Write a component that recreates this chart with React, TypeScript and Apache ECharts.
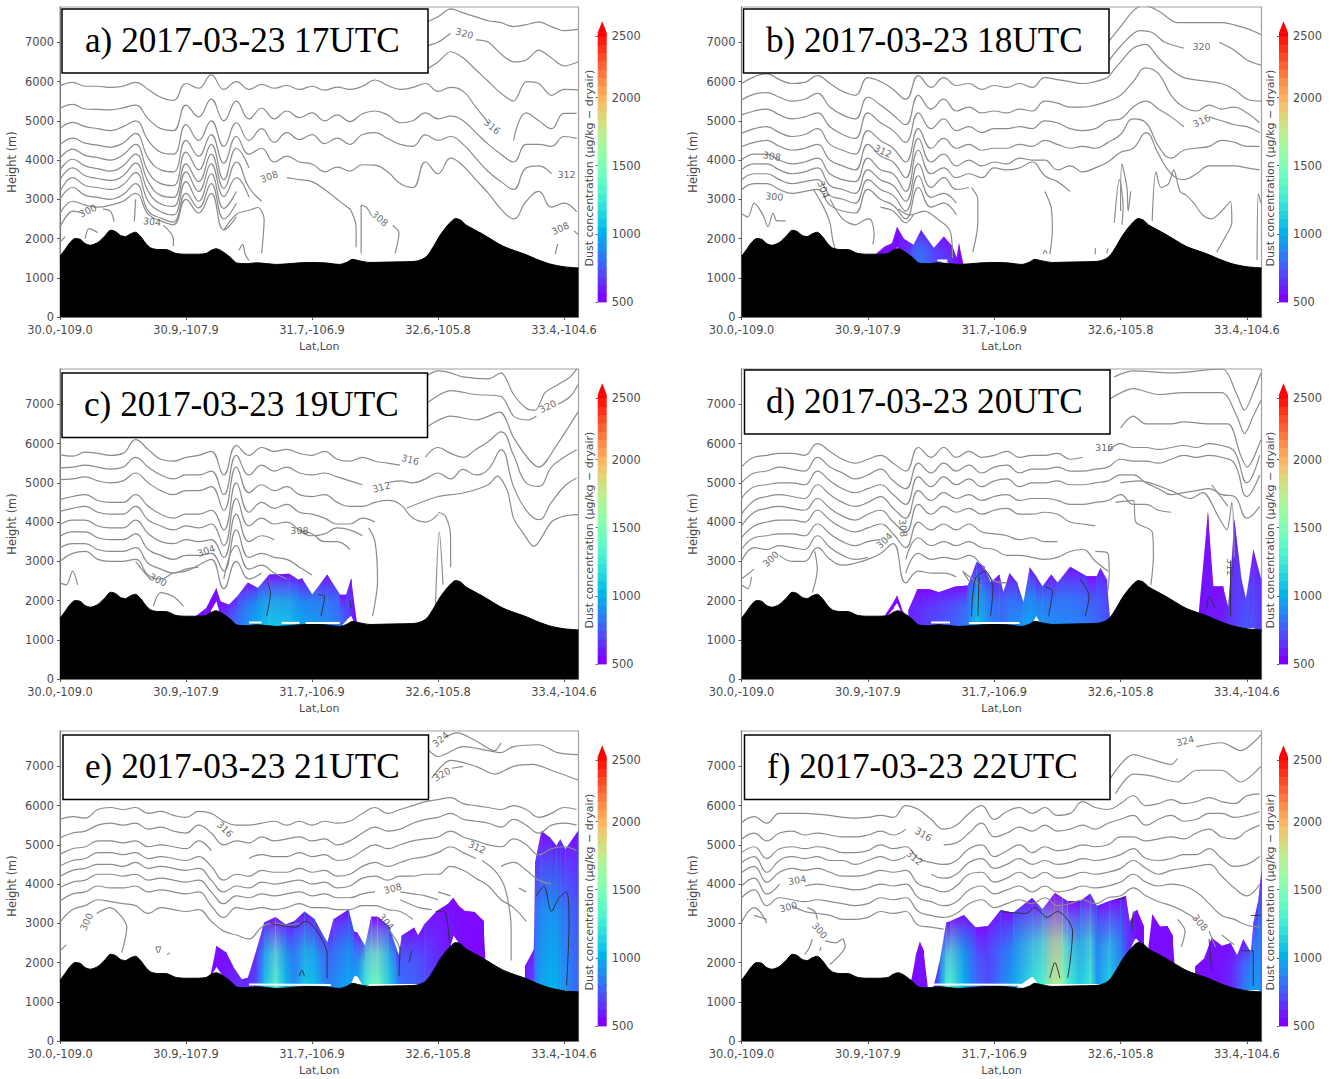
import React, { useEffect, useRef } from "react";
import * as echarts from "echarts";

const n = null;
const xTickValues = [0, 100, 200, 300, 400];
const xTickLabels = ["30.0,-109.0", "30.9,-107.9", "31.7,-106.9", "32.6,-105.8", "33.4,-104.6"];
const yTickValues = [0, 1000, 2000, 3000, 4000, 5000, 6000, 7000];
const cbTickValues = [500, 1013, 1525, 2036, 2500];
const cbLevels = [500,562,625,687,750,812,875,937,1000,1062,1125,1187,1250,1312,1375,1437,1500,1562,1625,1687,1750,1812,1875,1937,2000,2062,2125,2187,2250,2312,2375,2437,2500,2525];
const titles = ["a) 2017-03-23 17UTC","b) 2017-03-23 18UTC","c) 2017-03-23 19UTC","d) 2017-03-23 20UTC","e) 2017-03-23 21UTC","f) 2017-03-23 22UTC"];

const terrainX = [0,4,8,12,16,20,24,30,36,40,44,48,52,56,60,64,68,72,78,84,92,100,108,116,120,124,128,132,136,140,148,156,172,190,199,210,222,228,232,238,246,260,282,288,292,297,302,308,314,318,322,335,352,369,380,389,400,411.5];
const terrainH = [1550,1720,1900,2000,1980,1870,1830,1900,2080,2210,2180,2080,2050,2120,2160,2050,1880,1760,1720,1720,1620,1600,1600,1620,1700,1740,1690,1600,1500,1380,1360,1380,1340,1380,1390,1380,1340,1400,1470,1430,1390,1400,1420,1480,1580,1830,2100,2350,2510,2470,2350,2120,1800,1600,1450,1350,1280,1250];

// contour lines sampled every 10 index units along the section
const gridX = [0,10,20,30,40,50,60,70,80,90,100,110,120,130,140,150,160,170,180,190,200,210,220,230,240,250,260,270,280,290,300,310,320,330,340,350,360,370,380,390,400,410];

const linesA = [
  [5890,5980,5880,5880,5850,5880,5980,5800,5600,5520,5950,5830,6170,5800,6000,5800,5930,5830,5900,5800,5880,5780,5860,5800,5880,6040,5900,5800,5850,5950,5750,5850,5750,5350,4950,n,4500,5200,5000,4800,5190,5190],
  [5320,5420,5300,5290,5280,5330,5400,5050,4800,4750,5400,5100,5550,5000,5500,5050,5320,5050,5250,5080,5200,5000,5150,4980,5180,5250,5150,4950,5000,5200,5050,5120,5000,4700,4400,4150,3950,4400,4400,4350,4600,4550],
  [4800,4960,4850,4800,4750,4850,5000,4500,4200,4150,4900,4500,5000,4350,4950,4500,4800,4450,4700,4520,4650,4420,4560,4400,4650,4700,4550,4400,4350,4640,4500,4600,4400,4050,3700,3450,3250,3800,3850,3650,n,3550],
  [4380,4560,4430,4380,4330,4430,4680,4050,3750,3700,4500,4100,4650,3920,4600,4150,4300,3950,4100,3950,3900,3700,3820,3720,3880,3870,3700,3400,3300,3950,3650,4050,3850,3500,3150,2750,2500,2950,3200,2800,2900,2680],
  [4040,4280,4120,4060,4000,4130,4400,3700,3400,3350,4200,3750,4400,3500,4300,3800,n,n,3550,3500,3450,3250,3000,2750],
  [3740,4020,3850,3780,3720,3850,4150,3450,3100,3050,3900,3450,4150,3280,3950,3300,2950],
  [3490,3800,3600,3530,3480,3600,3920,3200,2880,2820,3700,3200,3900,3070,3550,3050],
  [3190,3550,3350,3300,3250,3370,3680,2950,2680,2600,3450,2950,3650,2770,3200],
  [3000,3300,3100,3050,3000,3120,3400,2700,2520,2420,3150,2780,3400,2500,2900],
  [2640,2950,2850,2800,2850,2950,3150,2620,2450,2350,3000,2650,3150,2220,2550],
];
const segsA = [
  [[290,7500],[300,7650],[310,7850],[320,7750],[330,7650],[340,7550],[350,7500],[360,7400],[370,7450],[380,7520],[390,7400],[400,7300],[411,7330]],
  [[290,6900],[300,7000],[310,7230]],
  [[330,7060],[340,7000],[350,6700],[360,6500],[370,6550],[380,6800],[390,6600],[400,6400],[411,6500]],
  [[290,6300],[300,6500],[310,6760],[320,6600],[330,6300],[340,6000],[350,5700],[360,5500],[370,6000],[380,5950],[390,5650],[400,5800],[411,5790]],
  [[0,1900],[4,2050]],
  [[0,2300],[10,2700],[18,2650]],
  [[34,2750],[40,2700],[43,2430]],
  [[20,2000],[23,2250],[30,2150]],
  [[60,3000],[59,2430]],
  [[82,2340],[90,1990],[90,1800]],
  [[130,2220],[140,2620],[150,2720],[157,2790],[162,2500],[160,1620]],
  [[142,1700],[145,1850],[147,1600],[150,1440]],
  [[230,2770],[235,2300],[235,1780]],
  [[239,1620],[239,2850],[243,2800],[247,2600]],
  [[264,2330],[269,2150],[266,1620]],
  [[393,1600],[395,1860]],
  [[411,2100],[408,2200]],
];

const linesB = [
  [5950,6120,6200,6050,5950,5980,6150,5950,5750,5650,6100,6000,5800,5550,6150,5850,6100,5900,5950,5800,5900,5850,5950,5850,6100,6050,6000,5950,6000,6100],
  [5530,5680,5720,5600,5500,5550,5700,5350,5150,5050,5600,5400,5150,4900,5650,5300,5550,5250,5350,5200,5250,5200,5300,5250,5500,5450,5350,5350,5400,5500,5650,6000,6350,6200,5650,5350,5250,5400,5300,5350,5200,4950],
  [5150,5250,5300,5150,5050,5100,5200,4850,4650,4550,5200,4950,4750,4450,5200,4800,5050,4750,4850,4700,4800,4800,4850,4800,5000,4950,4800,4750,4800,5000,5050,5350,5500,5300,5100,4850,n,5100,5000,4900,4850,4700],
  [4680,4800,4850,4700,4600,4650,4800,4400,4250,4150,4750,4500,4300,3950,4800,4300,4550,4300,4400,4250,4300,4300,4400,4350,4500,4400,4300,4350,4300,4450,4650,5050,4950,4350,4050,4250,4300,4350,4500,4450,4350,4350],
  [4340,4450,4500,4350,4250,4300,4400,4000,3850,3750,4400,4100,3950,3550,4550,3950,4150,3850,4000,3850,3950,3900,4050,4000,4000,3750,3850,3700,3800,3950,4200,4300,4700,4150,3650,3500,3650,3850,3850,3850,3800,3750],
  [4000,4150,4150,4000,3900,3950,4050,3650,3500,3450,4050,3750,3650,3200,4250,3650,3800,3550,3650,3550,3800,3750,3800,3950,3600,3450,3200],
  [3750,3900,3900,3750,3650,3700,3800,3350,3250,3150,3750,3500,3350,2950,3900,3300,3550,3250,3300],
  [3490,3650,3650,3500,3400,3450,3500,3100,3000,2900,3500,3250,3100,2700,3600,3050,3150,2900],
  [3240,3400,3400,3250,3150,3200,3250,2850,2700,2650,3250,3000,2850,2500,3300,2800,2900,2600],
];
const segsB = [
  [[290,7000],[300,7400],[310,7800],[318,7950],[330,7800],[345,7500],[360,7500],[380,7500],[400,7350],[411,7200]],
  [[290,6500],[300,6900],[315,7300],[325,7250],[335,7000],[350,6850]],
  [[378,7000],[390,6800],[400,6550],[411,6420]],
  [[290,6100],[300,6500],[310,6850],[320,6950],[330,6600],[340,6300],[350,6100],[370,6000],[380,5950],[390,5800],[400,5550],[411,5500]],
  [[0,2640],[5,2550],[10,2900],[17,2600],[21,2300],[25,2650],[28,2450],[35,2450]],
  [[57,3250],[65,2800],[70,2400],[72,2000],[74,1750]],
  [[70,3000],[80,2500],[90,2350],[100,2500],[103,2450],[105,2100],[104,1850]],
  [[110,2800],[120,2700],[130,2400],[136,2600]],
  [[124,2750],[133,2600],[145,2700],[155,2500],[165,2200],[167,1500]],
  [[182,3300],[187,3000],[187,2400],[183,1650]],
  [[240,3200],[245,2800],[246,2200],[244,1600]],
  [[295,2400],[299,3500],[302,2800],[301,2350]],
  [[300,2700],[301,3900],[305,3300],[306,2700],[308,3200]],
  [[325,2450],[328,3700],[332,3300],[338,3400],[342,3750],[347,3200],[352,3100],[358,2900],[365,2600],[372,2500],[380,2700],[387,2950],[388,2400],[383,2050],[376,1650]],
  [[408,1450],[409,3150],[411,2900]],
  [[239,1600],[240,1700],[242,1620]],
  [[280,1600],[280,1750]],
  [[289,1620],[290,1750]],
];

const linesC = [
  [5720,5680,5780,5750,5700,5750,6100,5850,5600,5550,5650,5700,5800,5200,5950,5700,5900,5800,5850,5750,5700,5800,5600,5550,5650,5550,5500,5450,n,5650,5900,5750,5650,5850,6050,6300,5700,5000,4910,5400,5650,5840],
  [5380,5400,5450,5400,5350,5400,5650,5400,5200,5100,5200,5200,5300,4700,5700,5200,5450,5300,5400,5250,5200,5250,5150,5050,4950,n,5000,5050,5000,5100,5250,5100,5340,5200,5350,5840,4900,4300,4060,4500,4900,5120],
  [5080,5100,5150,5050,5000,5050,5250,5000,4800,4700,4800,4800,4900,4300,5400,4750,4950,4800,4900,4700,4650,4700,4500,4400,4400,4500,4550,4450,4100,4000,4200],
  [4570,4650,4700,4550,4500,4500,4700,4400,4200,4100,4200,4200,4300,3800,5000,4250,4500,4350,4450,4250,4200,4100,3950,3950,4100,4000,n,n],
  [4270,4350,4400,4250,4200,4200,4400,4050,3900,3800,3900,3850,3950,3400,4600,3900,4100,3950,4000,3800,3700,3500,3500,3300],
  [3930,4050,4050,3900,3850,3850,4050,3700,3500,3450,3550,3500,3550,3100,4200,3500,3650,3550,n,3780,3650,3700,3850,3800,3650],
  [3640,3750,3750,3600,3550,3550,3700,3300,3150,3050,3150,3150,3200,2750,3800,3100,3200,3100,3050,2850,2650],
  [3340,3450,3450,3300,3250,3250,3350,2950,2800,2700,2800,2850,n,2550,3400,2800,2900,2700,2550],
  [3000,3200,3250,3050,3000,3000,3050,2650,2550,2700,2750,2900,3050,2300,3000,2550,2700],
];
const segsC = [
  [[290,7700],[300,7850],[310,7800],[320,7700],[340,7650],[350,7800],[360,7250],[370,6900],[377,6850],[385,7300],[395,7500],[405,7700],[411,7950]],
  [[290,7000],[310,7350],[330,7250],[350,7200],[360,6700],[372,6600],[378,6700]],
  [[395,7000],[405,7200],[411,7500]],
  [[290,6400],[310,6700],[330,6600],[349,6800],[360,6150],[372,5600],[380,5400],[395,6000],[411,6800]],
  [[275,4350],[300,4650],[320,4740],[340,4950],[347,5170],[355,4800],[360,4100],[368,3700],[376,3380],[390,4000],[400,4150],[411,4190]],
  [[300,4250],[306,4150],[310,3600],[310,2850]],
  [[0,2450],[5,2400],[10,2750],[14,2400]],
  [[74,1850],[80,2200],[90,2100],[98,1850]],
  [[60,3000],[70,2600],[72,2550]],
  [[245,3850],[250,3500],[252,2500],[248,1600]],
  [[298,1900],[301,3750],[304,2400]],
];

const linesD = [
  [5400,5650,5700,5750,5750,5700,6000,5800,5600,5500,5600,5700,5500,5300,5900,5650,5900,5650,5800,5650,5700,5800,5650,5700,5700,5750,5600,5650,n,5800,6000,5900,5900,5850,5900,5950,5900,6000,5950,5800,5000,5700],
  [5000,5250,5300,5400,5350,5300,5650,5400,5250,5100,5200,5350,5050,4850,5500,5250,5500,5300,5450,5250,5400,5450,5250,5350,5350,5400,5300,5300,5350,5400,5600,5550,5550,5500,5600,5700,5650,5700,5650,5500,4650,5200],
  [4600,4900,4950,5000,5000,4950,5300,5050,4850,4750,4850,4950,4700,4450,5150,4900,5150,4950,5100,4900,5050,5100,4900,5000,5000,5050,4950,4950,5000,5050,5200,5200,5000,4850,4700,4750,4800,4850,4700,4650,4100,4400],
  [4200,4550,4650,4700,4650,4600,4950,4700,4500,4400,4500,4650,4350,4100,4800,4550,4750,4600,4700,4550,4650,4700,4550,4600,4600,4550,4450,4450,4500,4550,4700,4450,4450,4300,4250],
  [3900,4250,4350,4400,4350,4300,4600,4350,4150,4050,4200,4300,4000,3750,4450,4200,4400,4250,4350,4200,4300,4350,4200,4200,4250,4200,4000,3950,3900],
  [3600,3900,4000,4050,4050,4000,4300,4050,3850,3750,3850,3950,3700,3350,4000,3800,3950,3800,3950,3750,3700,3650,3550,3600,3500,3500],
  [3300,3600,3650,3700,3700,3650,3950,3700,3500,3400,3500,3550,n,3050,3600,3400,3500,3400,3500,3350,3300,3150,3150,3100,3050,3100,3250,3300,3000,2750],
  [3000,3350,3300,3400,3350,3300,3650,3350,3150,3050,3100,n,n,2700,3200,3050,3100,3050,3150,2900,2500,2450],
  [2550,2800,n,3150,3000,3000,3350,3050,2900,2950,3050,3200,3450,2450,2750,2700,2700,2600],
];
const segsD = [
  [[300,6400],[310,6700],[320,6500],[340,6500],[350,6550],[370,6500],[385,6500],[395,5700],[400,5400],[411,6100]],
  [[290,7100],[310,7400],[330,7250],[350,7300],[380,7300],[392,6700],[398,6250],[405,6700],[411,7100]],
  [[295,7700],[310,7850],[340,7800],[380,7900],[392,7250],[398,6850],[405,7300],[411,7800]],
  [[296,4500],[310,4550],[312,4000],[325,3750],[326,3150],[324,2400]],
  [[280,3250],[290,3200],[291,2700],[290,2250]],
  [[190,2350],[175,2750],[180,2500]],
  [[0,2400],[5,2300],[8,2600]],
  [[58,3250],[60,2800],[56,2200]],
  [[300,5000],[315,5050],[340,4800],[355,4600],[365,4750],[378,4100],[384,3800],[388,4500],[390,3100]],
  [[372,4950],[385,4400]],
];

const linesE = [
  [5650,5720,5680,5900,5950,5900,5950,5800,5850,5750,5700,5850,5800,5600,5500,5500,5550,5600,5500,5600,5500,5600,5550,5600,5800,5950,5800,5900,6000,6100,6150,6200,6050,6000,5950,5900,6000,5900,5700,5800,5950,5900],
  [5180,5300,5350,5500,5550,5500,5550,5400,5450,5350,5300,5500,5300,5000,5100,5050,5200,5100,5150,5200,5100,5150,5000,5100,5300,5450,5350,5400,5550,5650,5700,5800,5650,5600,5550,5450,5650,5500,5300,5500,5550,5500],
  [4760,4900,4950,5100,5100,5050,5100,4950,5000,4950,4900,5100,4850,n,n,4650,4750,4700,4700,4800,4700,4750,4600,4650,4850,5000,4900,5000,5100,5150,5200,5350,5200,5100,5000,4950,5150,5000,4750,4900,4950,4850],
  [4460,4600,4650,4800,4800,4750,4800,4650,4700,4650,4600,4700,4450,4100,4250,4200,4350,4300,4300,4400,4300,4350,4200,4250,4450,4550,4450,4550,4650,4700,4800,4950,4800,4650,n,4450,4550,4350,4100,4000,n,n],
  [4200,4350,4400,4500,4500,4450,4550,4400,4450,4400,4350,4400,4100,3800,3950,3900,4050,4000,4050,4100,4000,4050,3900,3950,4150,4200,4100,4200,4200,4250,4250,4450,4350,4150,3950,3600,3400,3050],
  [3910,4050,4100,4250,4250,4200,4250,4100,4150,4100,4050,4100,3800,3500,3700,3650,3750,3700,3750,3800,3700,3750,3650,3650,3750,3800,n,3800,3750,3700,3600],
  [3570,3750,3800,3950,3900,3900,3950,3800,3850,3800,3750,3800,3450,3150,3400,3350,3400,3350,3400,3500,3400,3400,3350,3350,3450,3450,3350,3300,3100],
  [3020,3350,3450,3600,3550,3500,3450,3250,3400,3350,3300,3350,3050,2800,2700,2600,2900,3000,2950,3000],
];
const segsE = [
  [[290,7500],[300,7250],[320,7500],[340,7400],[350,7350],[360,7500],[380,7550],[395,7350],[411,7300]],
  [[295,6700],[310,7150],[330,7000],[345,6800],[360,7000],[375,7050],[390,6900],[411,6650]],
  [[311,6950],[320,7000]],
  [[306,7750],[315,7850],[330,7650],[345,7400],[350,7600]],
  [[0,2300],[5,2450]],
  [[29,3250],[40,3400],[48,3200],[53,2900],[49,2250]],
  [[76,2400],[78,2250],[80,2400],[76,2400]],
  [[85,2200],[87,2250]],
  [[262,2800],[268,2500],[270,2300]],
  [[270,3600],[285,3400],[295,3350]],
  [[300,3800],[310,3700]],
  [[335,4600],[345,4350],[352,4000],[356,3500],[358,2900],[358,2050]],
  [[364,3900],[370,3800]],
];

const linesF = [
  [5560,5720,5550,5800,5800,5800,5780,5750,5700,5680,5700,5750,5700,6000,5900,5650,5400,5500,5800,6000,5650,5850,5950,5800,5950,5750,5800,6100,5950,5900,6050,6250,6000,6050,6150,6050,6100,6200,6100,6050,6250,6300],
  [5140,5300,5100,5300,5350,5250,5300,5250,5200,5200,5250,5350,5250,5400,n,n,5000,5050,5300,5550,5200,5300,5450,5350,5500,5350,5400,5500,5400,5550,5650,5750,5500,5650,5750,5600,5650,5800,5800,5700,5750,5850],
  [4800,4950,4650,4900,4950,4900,4950,4900,4800,4800,4850,5000,4900,4950,4650,4550,4500,4600,4900,5000,4700,4850,5000,4800,4950,4850,4900,5000,4950,5000,5200,5200,5100,5150,5200,5150,5300,5400,5200,5150,5350,5500],
  [4545,4700,4300,4600,4700,4650,4700,4600,4600,4500,4600,4700,4600,4700,n,4250,4150,4250,4550,4650,4400,4500,4650,4500,4600,4500,4550,4650,4600,4650,4750,4900,4650,4600,4650,4750,4750,4900,4650,4450,4500,4700],
  [4290,4450,4050,4300,4400,4350,4400,4300,4200,4200,4250,4350,4300,4350,4000,3900,3800,3950,4250,4300,4050,4150,4300,4150,4300,4150,4200,4300,4250,4300,4400,4600,4400,4250,4350,4400,4450,4500,4200,3900,3700,4000],
  [3950,4150,3750,4000,n,3950,4000,3950,3900,3850,3900,4000,3950,4000,3650,3550,3450,3550,3850,3950,3750,3850,3950,3800,3950,3800,3850,3950,3900,3950,4050,4250,4050,3950,4000,3950,3800,3500,3200,3100,2950,2900],
  [3650,3850,3450,3650,3600,3550,3600,3550,3500,3450,3500,3650,3600,3650,3300,3200,3150,3250,3500,3600,3400,3500,3600,3500,3650,3450,3500,3600,3500,3650,3700,3900,3700,3550,3450,3300,3100,n,2700,2450],
  [3020,3400,3000,n,3450,3300,3250,3200,3100,3100,3150,3300,3250,3300,2950,2900,2850],
];
const segsF = [
  [[292,6700],[310,7300],[322,7200],[340,7050],[345,7200]],
  [[360,7500],[380,7600],[395,7400],[411,7800]],
  [[296,6300],[310,6800],[325,6750],[345,6600],[360,6900],[380,6900],[395,6600],[411,7000]],
  [[10,3200],[20,3100]],
  [[52,3400],[58,3300],[60,3100]],
  [[66,2550],[75,2500],[80,2600],[82,2400],[78,2200],[70,1950]],
  [[50,2200],[54,2400],[56,2600]],
  [[62,2300],[63,2400]],
  [[370,2800],[375,2400]],
  [[348,2400],[351,2800],[345,3100]],
];

const whiteA: any[] = [];
const whiteB = [[[155,1440],[163,1440]]];
const whiteC = [[[150,1440],[160,1440]],[[176,1430],[190,1430]],[[195,1430],[222,1430]]];
const whiteD = [[[150,1440],[165,1440]],[[180,1430],[220,1430]]];
const whiteE = [[[150,1440],[215,1430]],[[245,1430],[285,1430]]];
const whiteF = [[[150,1440],[225,1430]],[[240,1430],[285,1430]]];

// dust columns: [index along section, bottom height, top height, concentration near ground]
const dustA: number[][][] = [];
const dustB = [[[106,1300,1600,520],[113,1300,1790,540],[119,1500,1880,560],[123,1800,2300,520],[128,1500,2000,620],[136,1300,1835,780],[142,1300,2220,820],[152,1300,1750,700],[160,1460,2050,650],[167,1300,1790,600],[170,1300,1500,540],[172,1300,1880,520],[175,1300,1370,520]]];
const dustC = [[[108,1500,1610,510],[116,1500,1810,560],[119,1700,2000,520],[124,2000,2320,520],[127,1600,1980,600],[134,1300,1890,700],[141,1300,2120,800],[149,1300,2460,900],[157,1300,2320,1000],[166,1300,2660,1080],[182,1300,2680,1050],[189,1300,2530,980],[192,1300,2570,960],[200,1300,2150,930],[212,1300,2660,880],[222,1300,2150,820],[227,1500,2150,720],[231,1620,2570,620],[235,1300,1470,520]]];
const dustD = [
  [[114,1550,1650,510],[120,1800,1950,510],[123,1950,2130,510],[126,1700,1850,510],[129,1500,1600,510]],
  [[132,1300,1760,600],[139,1300,2290,620],[149,1300,2290,680],[156,1300,2210,700],[169,1300,2360,760],[179,1300,2380,850],[186,1300,2990,1050],[192,1300,2870,950],[197,1300,2450,850],[204,1300,2660,820],[207,1300,2190,800],[212,1300,2700,860],[218,1300,2450,880],[223,1300,1940,920],[228,1300,2850,950],[233,1620,2620,920],[238,1300,2360,900],[245,1300,2660,880],[250,1300,2450,870],[260,1300,2860,860],[273,1300,2620,820],[281,1300,2620,780],[284,1300,2830,760],[289,1300,2530,720],[291,1300,1600,650]],
  [[362,1300,1750,520],[369,1300,4270,560],[373,1300,2360,560],[381,1300,2360,580],[385,1300,1800,620],[390,1300,4080,650],[395,1300,2620,700],[399,1300,2020,720],[405,1300,3300,700],[411,1200,2530,650]],
];
const dustE = [
  [[119,1610,1620,510],[124,1900,2420,530],[132,1500,2250,560],[137,1300,1910,600],[144,1300,1570,640],[149,1300,1610,620],[156,1300,2340,700],[162,1300,3020,1050],[171,1300,3160,1330],[179,1300,2970,1020],[186,1300,3060,880],[194,1300,3300,1080],[202,1300,3100,1040],[212,1300,2500,820],[217,1300,3100,860],[229,1300,3350,960],[233,1650,2800,900],[236,1650,2760,950],[242,1300,2420,1250],[247,1300,3170,1380],[252,1300,3170,1430],[261,1300,2930,1120],[267,1300,2340,900],[269,1300,2170,800],[271,1300,2680,780],[281,1300,2890,760],[284,1300,2680,740],[289,1300,2970,700],[299,1300,3310,620],[308,2200,3500,560],[312,2700,3650,540],[316,2500,3450,530],[321,2100,3310,530],[329,1300,3290,520],[336,1300,3060,510],[337,1300,2120,510]],
  [[369,1300,1910,560],[376,1300,2340,700],[377,1300,4550,850],[382,1300,5350,950],[389,1300,5180,1000],[394,1300,4970,980],[397,1300,5140,920],[401,1300,4880,880],[411,1200,5350,760]],
];
const dustF = [
  [[134,1300,1500,520],[138,1300,2200,530],[141,1300,2530,550],[144,1300,2300,540],[147,1300,1360,520]],
  [[152,1300,1400,520],[157,1300,2080,900],[162,1300,3020,1250],[165,1300,3050,1320],[176,1300,3210,1000],[185,1300,2890,780],[195,1300,2930,700],[205,1300,3340,820],[215,1300,3270,950],[230,1650,3650,1200],[238,1300,3360,1300],[248,1300,3780,1760],[254,1300,3650,1550],[258,1300,3570,1300],[268,1300,3570,1100],[276,1300,3760,1260],[281,1300,3440,920],[291,1300,3570,1120],[300,1300,3650,900],[304,2000,3700,700],[307,2300,3020,620],[311,2600,3300,560],[313,2600,3340,540],[318,2300,2930,520]],
  [[322,2000,2400,510],[325,1900,3230,520],[331,1700,2910,540],[337,1500,2930,540],[341,1400,2680,520],[342,1400,2040,510]],
  [[359,1300,1900,520],[366,1300,2100,540],[372,1300,2630,540],[380,1300,2420,560],[387,1300,2500,600],[392,1300,2170,700],[397,1300,2590,800],[403,1300,2250,900],[405,1300,3000,900],[409,1300,3600,900],[411.5,1200,4380,850]],
];

const darkC = [[[165,2450],[167,2200],[164,1600]],[[205,2150],[210,2100],[207,1600]],[[230,2000],[231,1800]]];
const darkD = [[[182,1600],[185,2550],[193,2750],[199,2300],[197,1600]],[[188,2600],[187,1600]],[[240,2350],[246,2250],[243,1600]],[[268,2550],[275,2100],[272,1600]],[[368,1800],[370,2100],[375,1800]],[[387,3000],[387,1600]]];
const darkE = [[[167,3000],[175,2950],[187,2900],[195,3050],[205,2750],[212,2200],[212,1600]],[[190,1650],[192,1800],[194,1650]],[[269,1650],[270,2400]],[[277,2000],[279,2300]],[[298,3300],[305,3300],[309,2500]],[[336,2500],[336,2300]],[[378,3700],[384,3950],[390,3300],[396,3650],[402,3800],[404,3000],[402,1400]]];
const darkF = [[[205,3300],[225,3250],[232,3400],[242,3150],[250,3300],[262,2800],[260,2000],[258,1600]],[[244,1600],[248,2000],[252,1600]],[[296,3600],[304,3650]],[[310,3300],[309,2800]],[[370,2600],[372,1800]],[[395,2300],[405,2300],[405,1400]],[[403,3200],[411,3200]]];

// contour labels: [x, height, text, rotation]
const labelsA = [[22,2710,"300",25],[73,2430,"304",-5],[166,3580,"308",20],[254,2510,"308",-40],[397,2260,"308",25],[402,3640,"312",0],[343,4850,"316",-40],[321,7230,"320",-15]];
const labelsB = [[26,3070,"300",-5],[65,3250,"304",-70],[24,4100,"308",-10],[112,4230,"312",-25],[364,5000,"316",25],[364,6890,"320",0]];
const labelsC = [[78,2530,"300",-25],[116,3270,"304",20],[190,3780,"308",0],[255,4890,"312",15],[278,5590,"316",-15],[387,6950,"320",25]];
const labelsD = [[23,3060,"300",45],[113,3530,"304",45],[128,3850,"308",-85],[387,2850,"312",-90],[287,5900,"316",0]];
const labelsE = [[21,3040,"300",65],[259,3040,"304",-50],[264,3890,"308",15],[331,4940,"312",-25],[131,5400,"316",-45],[303,6800,"320",30],[302,7690,"324",40]];
const labelsF = [[37,3420,"300",15],[62,2820,"300",-50],[44,4100,"304",10],[363,3020,"308",-50],[137,4670,"312",-40],[144,5270,"316",-30],[351,7650,"324",15]];

const panelLeft = [60, 741.5, 60, 741.5, 60, 741.5];
const panelTop = [7, 7, 369, 369, 731, 731];
const panelW = [518.5, 520, 518.5, 520, 518.5, 520];
const cbLeft = [597.7, 1279, 597.7, 1279, 597.7, 1279];
const cbTitleX = [589, 1270, 589, 1270, 589, 1270];
const boxes = [[62,9,366,64],[743.5,9,365.5,64],[62,373,365.5,64.5],[744.5,370,365.5,64],[63,735,365.5,64.5],[744.5,735,365.5,64.5]];
const titleX = [85,766,84,766,85,767];

const rainbow = (v: number) => {
  const x = Math.min(1, Math.max(0, (v - 500) / 2000));
  const r = Math.min(1, Math.abs(2 * x - 0.5));
  const g = Math.sin(Math.PI * x);
  const b = Math.cos((Math.PI * x) / 2);
  return `rgb(${Math.round(r * 255)},${Math.round(g * 255)},${Math.round(b * 255)})`;
};

const linesAll = [linesA, linesB, linesC, linesD, linesE, linesF];
const segsAll = [segsA, segsB, segsC, segsD, segsE, segsF];
const whiteAll = [whiteA, whiteB, whiteC, whiteD, whiteE, whiteF];
const dustAll = [dustA, dustB, dustC, dustD, dustE, dustF];
const darkAll: any[][] = [[], [], darkC, darkD, darkE, darkF];
const labelsAll = [labelsA, labelsB, labelsC, labelsD, labelsE, labelsF];

const AXIS_COLOR = "#4a4a4a";
const CONTOUR_COLOR = "#8c8c8c";
const FONT = "DejaVu Sans";

function dustRender(params: any, api: any) {
  const p0t = api.coord([api.value(0), api.value(2)]);
  const p1t = api.coord([api.value(4), api.value(6)]);
  const p1b = api.coord([api.value(4), api.value(5)]);
  const p0b = api.coord([api.value(0), api.value(1)]);
  const basePts = [p0t, [p1t[0] + 0.6, p1t[1]], [p1b[0] + 0.6, p1b[1]], p0b];
  const overPts = [p0t, p1t, p1b, p0b];
  return {
    type: "group",
    children: [
      {
        type: "polygon",
        shape: { points: basePts },
        style: {
          fill: new echarts.graphic.LinearGradient(0, 0, 1, 0, [
            { offset: 0, color: rainbow(api.value(3)) },
            { offset: 1, color: rainbow(api.value(7)) },
          ]),
        },
      },
      {
        type: "polygon",
        shape: { points: overPts },
        style: {
          fill: new echarts.graphic.LinearGradient(0, 1, 0, 0, [
            { offset: 0, color: "rgba(128,10,255,0)" },
            { offset: 0.5, color: "rgba(128,10,255,0.2)" },
            { offset: 0.8, color: "rgba(128,10,255,0.6)" },
            { offset: 1, color: "rgba(128,10,255,1)" },
          ]),
        },
      },
    ],
  };
}

function cbRender(params: any, api: any) {
  const a = api.coord([0, api.value(0)]);
  const b = api.coord([1, api.value(1)]);
  return {
    type: "rect",
    shape: { x: a[0], y: b[1] - 0.4, width: b[0] - a[0], height: a[1] - b[1] + 0.8 },
    style: { fill: rainbow(api.value(0)) },
  };
}

function arrowRender(params: any, api: any) {
  const l = api.coord([0, 2525]);
  const r = api.coord([1, 2525]);
  const t = api.coord([0.5, api.value(0)]);
  return { type: "polygon", shape: { points: [l, r, t] }, style: { fill: "#ff0000" } };
}

function buildOption() {
  const grids: any[] = [];
  const xAxes: any[] = [];
  const yAxes: any[] = [];
  const cbGrids: any[] = [];
  const cbX: any[] = [];
  const cbY: any[] = [];
  const series: any[] = [];
  const graphic: any[] = [];

  for (let i = 0; i < 6; i++) {
    grids.push({ left: panelLeft[i], top: panelTop[i], width: panelW[i], height: 310, show: true, borderColor: "#a0a0a0", borderWidth: 1.2, backgroundColor: "#fff", z: 0 });
    xAxes.push({
      gridIndex: i, type: "value", min: 0, max: 411.5, name: "Lat,Lon", nameLocation: "middle", nameGap: 24,
      nameTextStyle: { fontFamily: FONT, fontSize: 11, color: AXIS_COLOR },
      axisLine: { lineStyle: { color: "#777" } }, splitLine: { show: false },
      axisTick: { length: 3, lineStyle: { color: "#555" }, customValues: xTickValues },
      axisLabel: { customValues: xTickValues, margin: 7, fontFamily: FONT, fontSize: 11.4, color: AXIS_COLOR, formatter: (v: number) => xTickLabels[xTickValues.indexOf(v)] ?? "" },
    });
    yAxes.push({
      gridIndex: i, type: "value", min: 0, max: 7900, name: "Height (m)", nameLocation: "middle", nameGap: 43,
      nameTextStyle: { fontFamily: FONT, fontSize: 11.4, color: AXIS_COLOR },
      axisLine: { show: true, lineStyle: { color: "#777" } }, splitLine: { show: false },
      axisTick: { show: true, length: 3, lineStyle: { color: "#555" }, customValues: yTickValues },
      axisLabel: { customValues: yTickValues, margin: 6, fontFamily: FONT, fontSize: 11.4, color: AXIS_COLOR, formatter: (v: number) => String(v) },
    });

    // dust
    dustAll[i].forEach((run) => {
      const rows = run.slice(0, -1).map((r, k) => [r[0], r[1], r[2], r[3], run[k + 1][0], run[k + 1][1], run[k + 1][2], run[k + 1][3]]);
      series.push({
        type: "custom", xAxisIndex: i, yAxisIndex: i, z: 2, clip: true, silent: true, renderItem: dustRender,
        encode: { x: [0, 4], y: [1, 2, 5, 6] }, data: rows,
      });
    });
    // white slivers above the valley floor
    whiteAll[i].forEach((d: any) => {
      series.push({ type: "line", xAxisIndex: i, yAxisIndex: i, z: 3, symbol: "none", silent: true, lineStyle: { color: "#fff", width: 2 }, data: d });
    });
    // contours
    linesAll[i].forEach((h: any[]) => {
      series.push({
        type: "line", xAxisIndex: i, yAxisIndex: i, z: 3, symbol: "none", smooth: 0.45, silent: true, connectNulls: false,
        lineStyle: { color: CONTOUR_COLOR, width: 1.2 }, data: h.map((v, k) => [gridX[k], v]),
      });
    });
    segsAll[i].forEach((d: any) => {
      series.push({ type: "line", xAxisIndex: i, yAxisIndex: i, z: 3, symbol: "none", smooth: 0.3, silent: true, lineStyle: { color: CONTOUR_COLOR, width: 1.2 }, data: d });
    });
    // terrain
    series.push({
      type: "line", xAxisIndex: i, yAxisIndex: i, z: 5, symbol: "none", smooth: 0.25, silent: true,
      lineStyle: { color: "#000", width: 1 }, areaStyle: { color: "#000", opacity: 1 },
      data: terrainX.map((x, k) => [x, terrainH[k]]),
    });
    // darker contours inside the dust
    darkAll[i].forEach((d: any) => {
      series.push({ type: "line", xAxisIndex: i, yAxisIndex: i, z: 4, symbol: "none", smooth: 0.3, silent: true, lineStyle: { color: "#2a3340", width: 1 }, data: d });
    });
    // contour labels
    series.push({
      type: "scatter", xAxisIndex: i, yAxisIndex: i, z: 6, symbolSize: 0, silent: true,
      data: labelsAll[i].map((l: any) => ({
        value: [l[0], l[1]],
        label: { show: true, position: "inside", formatter: l[2], rotate: l[3], fontFamily: FONT, fontSize: 9.5, color: "#444" },
      })),
    });

    // colour bar
    const cbIndex = 6 + i;
    const cbTop = panelTop[i] + 29;
    cbGrids.push({ left: cbLeft[i], top: cbTop, width: 9, height: 266, show: false });
    cbX.push({ gridIndex: cbIndex, type: "value", min: 0, max: 1, show: false });
    cbY.push({
      gridIndex: cbIndex, type: "value", min: 500, max: 2500, position: "right", splitLine: { show: false },
      axisLine: { show: false },
      axisTick: { show: true, inside: true, length: 2, lineStyle: { color: "#555" }, customValues: cbTickValues },
      axisLabel: { customValues: cbTickValues, margin: 5, fontFamily: FONT, fontSize: 11.4, color: AXIS_COLOR, formatter: (v: number) => String(Math.round(v / 500) * 500) },
    });
    series.push({
      type: "custom", xAxisIndex: cbIndex, yAxisIndex: cbIndex, z: 2, silent: true, renderItem: cbRender,
      encode: { y: [0, 1] }, data: cbLevels.slice(0, -1).map((v, k) => [v, cbLevels[k + 1]]),
    });
    series.push({
      type: "custom", xAxisIndex: cbIndex, yAxisIndex: cbIndex, z: 2, silent: true, renderItem: arrowRender,
      encode: { y: 0 }, data: [[2610]],
    });

    graphic.push({
      type: "text", x: cbTitleX[i], y: panelTop[i] + 161, rotation: Math.PI / 2, z: 20,
      style: { text: "Dust concentration (µg/kg − dryair)", fontFamily: FONT, fontSize: 11, fill: AXIS_COLOR, align: "center", verticalAlign: "middle" },
    });
    const b = boxes[i];
    graphic.push({ type: "rect", z: 30, shape: { x: b[0], y: b[1], width: b[2], height: b[3] }, style: { fill: "#fff", stroke: "#000", lineWidth: 1.5 } });
    graphic.push({
      type: "text", z: 31, x: titleX[i], y: b[1] + b[3] / 2 - 1,
      style: { text: titles[i], fontFamily: "Liberation Serif", fontSize: 35.2, fill: "#000", align: "left", verticalAlign: "middle" },
    });
  }
  return {
    animation: false, backgroundColor: "#fff",
    grid: grids.concat(cbGrids), xAxis: xAxes.concat(cbX), yAxis: yAxes.concat(cbY), series, graphic,
  };
}

export default function App() {
  const ref = useRef<HTMLDivElement>(null);
  useEffect(() => {
    const chart = echarts.init(ref.current!, undefined, { renderer: "svg" });
    chart.setOption(buildOption() as any);
    return () => chart.dispose();
  }, []);
  return <div ref={ref} style={{ position: "absolute", left: 0, top: 0, width: 1333, height: 1079 }} />;
}
